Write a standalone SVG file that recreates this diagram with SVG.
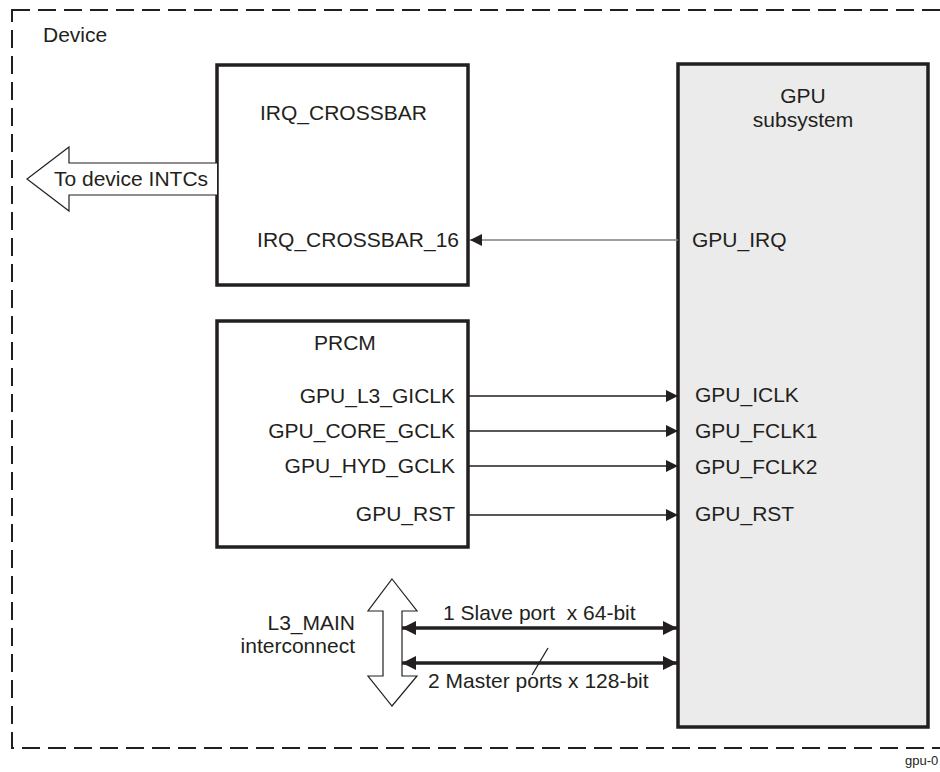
<svg xmlns="http://www.w3.org/2000/svg" width="940" height="772" viewBox="0 0 940 772">
<defs>
<style>
.t{font-family:"Liberation Sans",Arial,sans-serif;font-size:21px;fill:#231f20;white-space:pre}
.box{fill:#fff;stroke:#231f20;stroke-width:3.5}
.sig{stroke:#231f20;stroke-width:1.3;fill:none}
.bus{stroke:#231f20;stroke-width:3.5;fill:none}
.fat{fill:#fff;stroke:#231f20;stroke-width:1.2}
</style>
<marker id="ah" viewBox="0 0 12 12" refX="12" refY="6" markerWidth="12" markerHeight="12" markerUnits="userSpaceOnUse" orient="auto-start-reverse">
<path d="M0,0 L12,6 L0,12 Z" fill="#231f20"/>
</marker>
<marker id="bh" viewBox="0 0 14 14" refX="14" refY="7" markerWidth="14" markerHeight="14" markerUnits="userSpaceOnUse" orient="auto-start-reverse">
<path d="M0,0 L14,7 L0,14 Z" fill="#231f20"/>
</marker>
</defs>
<rect width="940" height="772" fill="#fff"/>
<g id="device">
<rect x="12" y="10" width="945" height="738" fill="none" stroke="#231f20" stroke-width="2" stroke-dasharray="18,8"/>
<text class="t" x="43" y="42">Device</text>
</g>
<g id="irq_crossbar">
<rect class="box" x="217" y="65" width="251" height="220"/>
<text class="t" x="260" y="120">IRQ_CROSSBAR</text>
<text class="t" x="459" y="247" text-anchor="end">IRQ_CROSSBAR_16</text>
</g>
<g id="to_intcs">
<path class="fat" d="M217,163 L69,163 L69,147 L27,179 L69,211 L69,195 L217,195"/>
<text class="t" x="54" y="186">To device INTCs</text>
</g>
<g id="prcm">
<rect class="box" x="217" y="321" width="251" height="226"/>
<text class="t" x="314" y="350">PRCM</text>
<text class="t" x="455" y="403" text-anchor="end">GPU_L3_GICLK</text>
<text class="t" x="455" y="438" text-anchor="end">GPU_CORE_GCLK</text>
<text class="t" x="455" y="473" text-anchor="end">GPU_HYD_GCLK</text>
<text class="t" x="455" y="521" text-anchor="end">GPU_RST</text>
</g>
<g id="gpu">
<rect x="678" y="64" width="250" height="663" fill="#ebebeb" stroke="#231f20" stroke-width="3.5"/>
<text class="t" x="803" y="103" text-anchor="middle">GPU</text>
<text class="t" x="803" y="127" text-anchor="middle">subsystem</text>
<text class="t" x="692" y="247">GPU_IRQ</text>
<text class="t" x="695" y="402">GPU_ICLK</text>
<text class="t" x="695" y="438">GPU_FCLK1</text>
<text class="t" x="695" y="474">GPU_FCLK2</text>
<text class="t" x="695" y="521">GPU_RST</text>
</g>
<g id="l3_main">
<path class="fat" d="M392,579 L417,611 L402,611 L402,676 L417,676 L392,706 L368,676 L383,676 L383,611 L368,611 Z"/>
<text class="t" x="355" y="630" text-anchor="end">L3_MAIN</text>
<text class="t" x="355" y="653" text-anchor="end">interconnect</text>
</g>
<g id="connectors">
<line x1="678" y1="240" x2="470" y2="240" stroke="#808080" stroke-width="1.3" marker-end="url(#ah)"/>
<line class="sig" x1="469" y1="396" x2="678" y2="396" marker-end="url(#ah)"/>
<line class="sig" x1="469" y1="431" x2="678" y2="431" marker-end="url(#ah)"/>
<line class="sig" x1="469" y1="466" x2="678" y2="466" marker-end="url(#ah)"/>
<line class="sig" x1="469" y1="515" x2="678" y2="515" marker-end="url(#ah)"/>
<line class="bus" x1="402" y1="628" x2="677" y2="628" marker-start="url(#bh)" marker-end="url(#bh)"/>
<line class="bus" x1="402" y1="663" x2="677" y2="663" marker-start="url(#bh)" marker-end="url(#bh)"/>
<line class="sig" x1="548" y1="648" x2="532" y2="675"/>
<text class="t" x="443" y="620">1 Slave port  x 64-bit</text>
<text class="t" x="428" y="688">2 Master ports x 128-bit</text>
</g>
<text x="905" y="765" font-family="Liberation Sans,Arial,sans-serif" font-size="13" fill="#231f20">gpu-0</text>
</svg>
